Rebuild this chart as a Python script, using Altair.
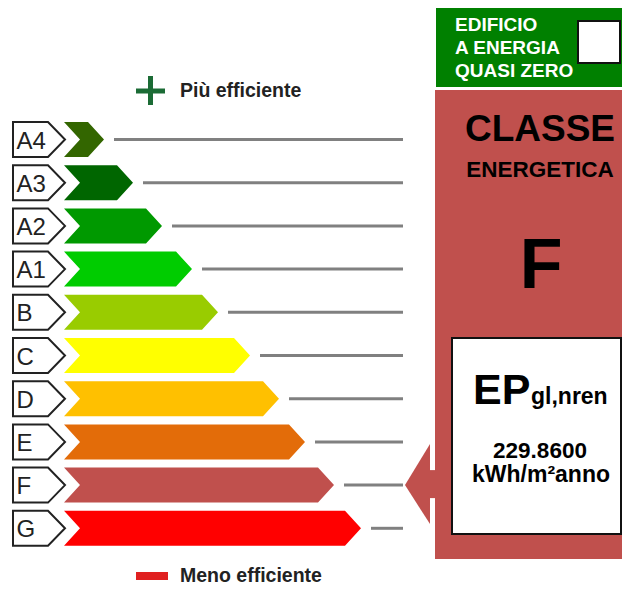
import altair as alt
import pandas as pd

classes = ["A4", "A3", "A2", "A1", "B", "C", "D", "E", "F", "G"]
class_colors = ["#336600", "#006600", "#009900", "#00cc00", "#99cc00",
                "#ffff00", "#ffc000", "#e36c09", "#c0504d", "#ff0000"]
bar_tips = [104, 133, 162, 192, 218, 250, 279, 305, 334, 361]
current_class = "F"
ep_value = "229.8600"
ep_unit = "kWh/m²anno"
nzeb_lines = ["EDIFICIO", "A ENERGIA", "QUASI ZERO"]
title_lines = ["CLASSE", "ENERGETICA"]
legend_top = "Più efficiente"
legend_bottom = "Meno efficiente"

# ---- layout (pixel coordinates of the page) ----
W, H = 614, 577
RIGHT, BOTTOM = 8 + W, 8 + H
FONT = "Liberation Sans"
ROW0, STEP, HALF = 139.5, 43.2, 17.5
LBL_L, LBL_R, LBL_TIP = 13, 48, 65
BAR_L, NOTCH, TIPLEN = 64, 16, 16
LINE_END = 403

xs = alt.Scale(domain=[8, RIGHT], range=[0, W])
ys = alt.Scale(domain=[BOTTOM, 8])


def X(f="x"):
    return alt.X(f"{f}:Q", scale=xs, axis=None)


def Y(f="y"):
    return alt.Y(f"{f}:Q", scale=ys, axis=None)


centers = [ROW0 + i * STEP for i in range(len(classes))]

lbl_rows, bar_rows, rule_rows, txt_rows = [], [], [], []
for c, col, tip, yc in zip(classes, class_colors, bar_tips, centers):
    for y, xl, xr, bl, br in [
        (yc - HALF, LBL_L, LBL_R, BAR_L, tip - TIPLEN),
        (yc, LBL_L, LBL_TIP, BAR_L + NOTCH, tip),
        (yc + HALF, LBL_L, LBL_R, BAR_L, tip - TIPLEN),
    ]:
        lbl_rows.append({"c": c, "y": y, "x": xl, "x2": xr})
        bar_rows.append({"c": c, "y": y, "x": bl, "x2": br, "col": col})
    rule_rows.append({"c": c, "y": yc, "x": tip + 10, "x2": LINE_END})
    txt_rows.append({"c": c, "y": yc + 9, "x": 16.5})

lbl_df = pd.DataFrame(lbl_rows)
bar_df = pd.DataFrame(bar_rows)
rule_df = pd.DataFrame(rule_rows)
txt_df = pd.DataFrame(txt_rows)

labels = alt.Chart(lbl_df).mark_area(
    orient="horizontal", fill="white", stroke="#222222", strokeWidth=2, strokeJoin="miter"
).encode(y=Y(), x=X(), x2="x2:Q", detail="c:N")

bars = alt.Chart(bar_df).mark_area(orient="horizontal").encode(
    y=Y(), x=X(), x2="x2:Q", detail="c:N",
    color=alt.Color("col:N", scale=None),
)

label_txt = alt.Chart(txt_df).mark_text(
    align="left", baseline="alphabetic", font=FONT, fontSize=24, color="#222222"
).encode(x=X(), y=Y(), text="c:N")

rules = alt.Chart(rule_df).mark_rule(color="#808080", strokeWidth=3).encode(
    x=X(), x2="x2:Q", y=Y()
)

sel_i = classes.index(current_class)
sel_col = class_colors[sel_i]
sel_y = centers[sel_i]

# right panel rectangles
rect_df = pd.DataFrame([
    {"x": 436, "x2": RIGHT, "y": 8, "y2": 87, "fill": "#008000", "stroke": "#008000", "sw": 0},
    {"x": 435, "x2": RIGHT, "y": 90, "y2": 559, "fill": sel_col, "stroke": sel_col, "sw": 0},
    {"x": 578, "x2": 620, "y": 21, "y2": 63, "fill": "#ffffff", "stroke": "#111111", "sw": 2},
    {"x": 452, "x2": 621, "y": 338, "y2": 534, "fill": "#ffffff", "stroke": "#111111", "sw": 2},
    {"x": 430, "x2": 436, "y": sel_y - 15, "y2": sel_y + 13, "fill": sel_col, "stroke": sel_col, "sw": 0},
    {"x": 136, "x2": 168, "y": 572, "y2": 580, "fill": "#e02020", "stroke": "#e02020", "sw": 0},
])
rects = alt.Chart(rect_df).mark_rect().encode(
    x=X(), x2="x2:Q", y=Y(), y2="y2:Q",
    fill=alt.Fill("fill:N", scale=None),
    stroke=alt.Stroke("stroke:N", scale=None),
    strokeWidth=alt.StrokeWidth("sw:Q", scale=None),
)

ptr_df = pd.DataFrame([
    {"y": sel_y - 41, "x": 430, "x2": 430},
    {"y": sel_y, "x": 405, "x2": 430},
    {"y": sel_y + 39, "x": 430, "x2": 430},
])
pointer = alt.Chart(ptr_df).mark_area(orient="horizontal", color=sel_col).encode(
    y=Y(), x=X(), x2="x2:Q"
)

# plus sign
plus_df = pd.DataFrame([
    {"x": 136, "x2": 165, "y": 91, "y2": 91},
    {"x": 150.5, "x2": 150.5, "y": 76, "y2": 105},
])
plus = alt.Chart(plus_df).mark_rule(color="#1b6b35", strokeWidth=5).encode(
    x=X(), x2="x2:Q", y=Y(), y2="y2:Q"
)


def text_layer(rows, **kw):
    df = pd.DataFrame(rows)
    return alt.Chart(df).mark_text(baseline="alphabetic", font=FONT, **kw).encode(
        x=X(), y=Y(), text="t:N"
    )


nzeb_txt = text_layer(
    [{"t": t, "x": 455, "y": b} for t, b in zip(nzeb_lines, [31, 54, 77])],
    align="left", fontSize=19, fontWeight="bold", color="white",
)
classe_txt = text_layer([{"t": title_lines[0], "x": 540, "y": 141}],
                        align="center", fontSize=37, fontWeight="bold", color="black")
energ_txt = text_layer([{"t": title_lines[1], "x": 540, "y": 177}],
                       align="center", fontSize=22.5, fontWeight="bold", color="black")
cls_txt = text_layer([{"t": current_class, "x": 541, "y": 288}],
                     align="center", fontSize=70, fontWeight="bold", color="black")
ep_txt = text_layer([{"t": "EP", "x": 473, "y": 404}],
                    align="left", fontSize=43, fontWeight="bold", color="black")
sub_txt = text_layer([{"t": "gl,nren", "x": 531, "y": 404}],
                     align="left", fontSize=23, fontWeight="bold", color="black")
val_txt = text_layer([{"t": ep_value, "x": 540, "y": 458}],
                     align="center", fontSize=22.5, fontWeight="bold", color="black")
unit_txt = text_layer([{"t": ep_unit, "x": 541, "y": 482}],
                      align="center", fontSize=23, fontWeight="bold", color="black")
leg_txt = text_layer([{"t": legend_top, "x": 180, "y": 97},
                      {"t": legend_bottom, "x": 180, "y": 582}],
                     align="left", fontSize=19.5, fontWeight="bold", color="#222222")

chart = alt.layer(
    rects, pointer, labels, bars, label_txt, rules, plus,
    nzeb_txt, classe_txt, energ_txt, cls_txt, ep_txt, sub_txt, val_txt, unit_txt, leg_txt,
).properties(
    width=W, height=H, padding=0, autosize=alt.AutoSizeParams(type="none")
).configure_view(stroke=None)

chart.save("out.html", embed_options={"renderer": "svg", "actions": False})
